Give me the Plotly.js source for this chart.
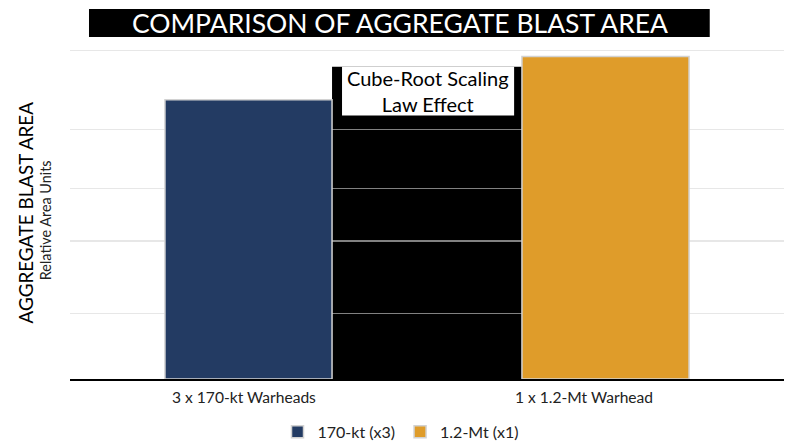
<!DOCTYPE html>
<html>
<head>
<meta charset="utf-8">
<script src="https://cdn.plot.ly/plotly-3.0.1.min.js"></script>
<style>html,body{margin:0;padding:0;background:#fff;}#chart{width:800px;height:447px;}</style>
</head>
<body>
<div id="chart"></div>
<script>
// ---- data ----
const categories = ["3 x 170-kt Warheads", "1 x 1.2-Mt Warhead"];
const seriesNames = ["170-kt (x3)", "1.2-Mt (x1)"];
const areaValues = [85, 98.2];            // relative area units
const gridTicks = [20, 42, 58, 76, 100];  // gridline positions
const effectTop = 95.1;                   // top of "Cube-Root Scaling Law Effect" band
const effectLabel = "Cube-Root Scaling<br>Law Effect";
const titleText = "COMPARISON OF AGGREGATE BLAST AREA";
const yTitle = "AGGREGATE BLAST AREA";
const ySubTitle = "Relative Area Units";

const colors = ["#233b63", "#df9c2a"];
const barWidth = 0.468;
const FONT = "Lato, 'Open Sans', sans-serif";

const traces = categories.map((c, i) => ({
  type: "bar",
  name: seriesNames[i],
  x: [c],
  y: [areaValues[i]],
  width: barWidth,
  marker: {color: colors[i], line: {color: "#d2d2d2", width: 1.5}},
  hoverinfo: "skip"
}));

const labelBottom = 80.2;

const layout = {
  width: 800, height: 447,
  margin: {l: 70, r: 16, t: 44, b: 68, autoexpand: false},
  paper_bgcolor: "#fff", plot_bgcolor: "#fff",
  font: {family: FONT, color: "#1a1a1a"},
  barmode: "overlay",
  showlegend: true,
  legend: {orientation: "h", x: 0.4636, xanchor: "center",
           y: -0.158, yanchor: "middle", font: {size: 16, color: "#222"}},
  title: {text: titleText, font: {family: FONT, size: 26.5, color: "#fff"},
          xref: "container", x: 0.5, xanchor: "center",
          yref: "container", y: 0.948, yanchor: "middle", automargin: false},
  xaxis: {type: "category", range: [-0.5, 1.5], showticklabels: false,
          showline: true, linecolor: "#000", linewidth: 2, ticks: "",
          showgrid: false, zeroline: false, fixedrange: true, automargin: false},
  yaxis: {range: [0, 102], tickmode: "array", tickvals: gridTicks,
          showticklabels: false, showgrid: true,
          gridcolor: "rgba(215,215,215,0.6)", gridwidth: 1.3,
          zeroline: false, showline: false, ticks: "", fixedrange: true, automargin: false},
  shapes: [
    // title background
    {type: "rect", xref: "paper", yref: "paper", x0: 0.0266, x1: 0.896,
     y0: 1.0209, y1: 1.1045, fillcolor: "#000", line: {width: 0}, layer: "below"},
    // effect band between the bars
    {type: "rect", xref: "x", yref: "y", x0: barWidth / 2, x1: 1 - barWidth / 2,
     y0: 0, y1: effectTop, fillcolor: "#000", line: {width: 0}, layer: "below"},
    // label box
    {type: "rect", xref: "x", yref: "y", x0: 0.262, x1: 0.744,
     y0: labelBottom, y1: effectTop, fillcolor: "#fff", line: {width: 0}, layer: "above"}
  ],
  annotations: [
    {text: effectLabel, xref: "x", yref: "y", x: 0.503, y: (labelBottom + effectTop) / 2,
     showarrow: false, font: {family: FONT, size: 20, color: "#000"},
     xanchor: "center", yanchor: "middle"},
    {text: yTitle, xref: "paper", yref: "paper", x: -0.0625, y: 0.4985,
     textangle: -90, showarrow: false, font: {family: FONT, size: 18.8, color: "#000"},
     xanchor: "center", yanchor: "middle"},
    {text: ySubTitle, xref: "paper", yref: "paper", x: -0.035, y: 0.474,
     textangle: -90, showarrow: false, font: {family: FONT, size: 14.4, color: "#222"},
     xanchor: "center", yanchor: "middle"},
    {text: categories[0], xref: "x", yref: "paper", x: categories[0], y: 0,
     yshift: -18, xshift: -5, showarrow: false,
     font: {family: FONT, size: 15.6, color: "#222"}, xanchor: "center", yanchor: "middle"},
    {text: categories[1], xref: "x", yref: "paper", x: categories[1], y: 0,
     yshift: -18, xshift: -22, showarrow: false,
     font: {family: FONT, size: 15.6, color: "#222"}, xanchor: "center", yanchor: "middle"}
  ]
};

Plotly.newPlot("chart", traces, layout, {displayModeBar: false, staticPlot: true});
</script>
</body>
</html>
